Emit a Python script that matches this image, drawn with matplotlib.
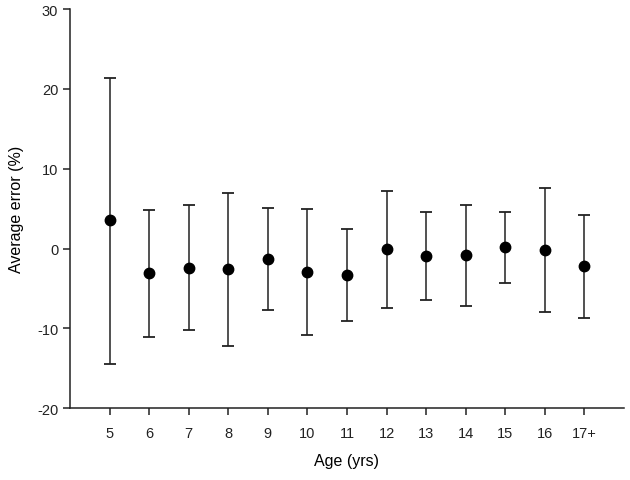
import numpy as np
import matplotlib.pyplot as plt

plt.rcParams['font.family'] = ['Liberation Sans', 'DejaVu Sans']
plt.rcParams['axes.unicode_minus'] = False

# data
ages = ['5', '6', '7', '8', '9', '10', '11', '12', '13', '14', '15', '16', '17+']
mean_err = [3.55, -3.1, -2.4, -2.6, -1.3, -2.9, -3.3, -0.1, -0.9, -0.85, 0.2, -0.2, -2.2]
upper = [21.4, 4.8, 5.5, 7.0, 5.1, 5.0, 2.4, 7.2, 4.6, 5.4, 4.6, 7.6, 4.2]
lower = [-14.5, -11.1, -10.2, -12.2, -7.65, -10.8, -9.1, -7.5, -6.45, -7.2, -4.25, -7.9, -8.7]

mean_err = np.array(mean_err)
yerr = [mean_err - np.array(lower), np.array(upper) - mean_err]
x = np.arange(1, len(ages) + 1)

fig = plt.figure(figsize=(6.3, 4.81), dpi=100)
ax = fig.add_axes([70/630, (481-409.3)/481, (624-70)/630, (409.3-10)/481])

ax.errorbar(x, mean_err, yerr=yerr, fmt='o', color='black', ecolor='#222222',
            markersize=7.5, elinewidth=1.1, capsize=4.5, capthick=1.3)

ax.set_xlim(0, 14)
ax.set_ylim(-20, 30)
ax.set_xticks(x)
ax.set_xticklabels(ages)
ax.set_yticks([-20, -10, 0, 10, 20, 30])

ax.spines['top'].set_visible(False)
ax.spines['right'].set_visible(False)
for s in ['left', 'bottom']:
    ax.spines[s].set_linewidth(1.1)
    ax.spines[s].set_color('#222222')
ax.tick_params(direction='out', length=5, width=1.1, labelsize=10.5, colors='#222222')
ax.tick_params(axis='x', pad=8)

ax.set_xlabel('Age (yrs)', fontsize=11.5, labelpad=9)
ax.set_ylabel('Average error (%)', fontsize=11.5, labelpad=9)

fig.savefig('out.png', dpi=100)
